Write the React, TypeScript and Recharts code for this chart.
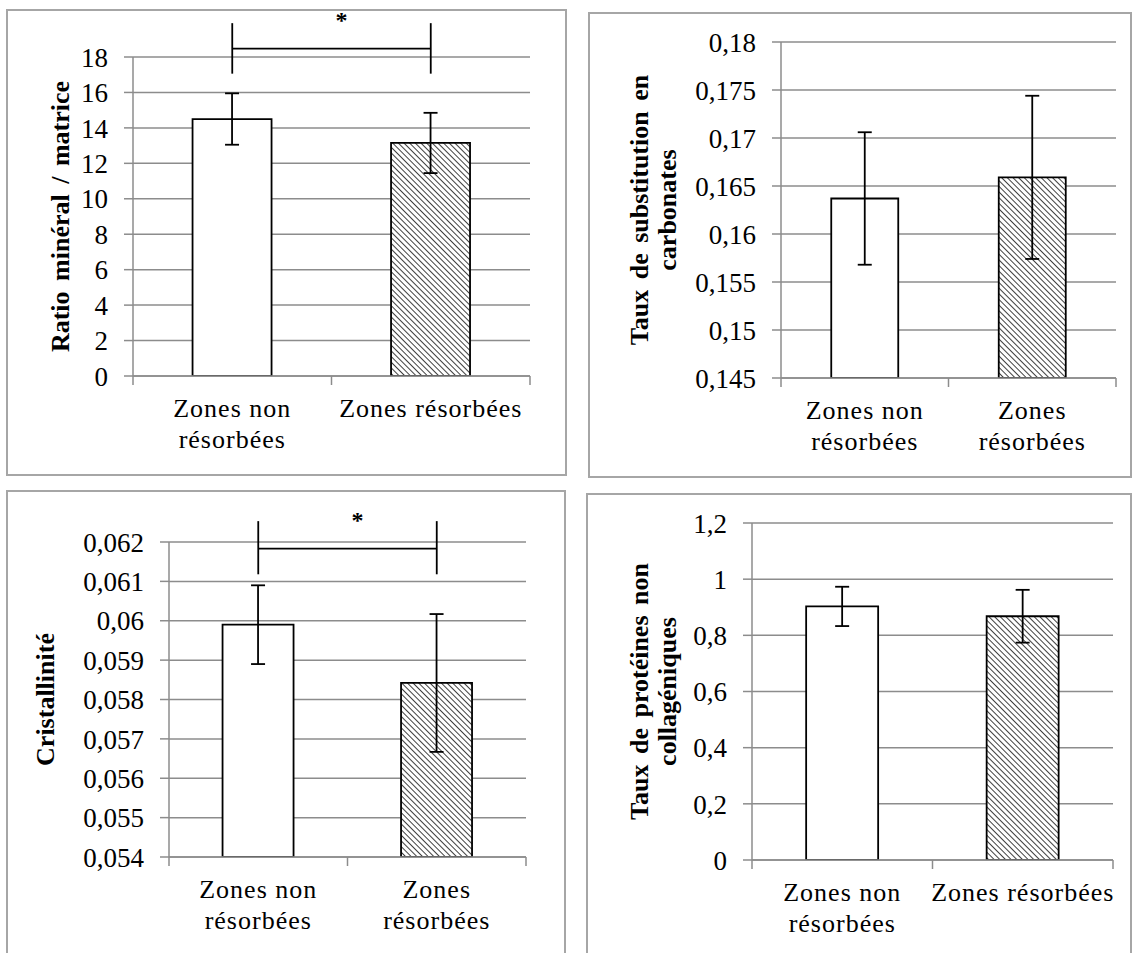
import React from 'react';
import { BarChart, Bar, XAxis, YAxis, CartesianGrid, ErrorBar, Cell, ReferenceLine } from 'recharts';

const categories = ['Zones non résorbées', 'Zones résorbées'];
const wideLines = [['Zones non', 'résorbées'], ['Zones résorbées']];
const narrowLines = [['Zones non', 'résorbées'], ['Zones', 'résorbées']];

// Ratio minéral / matrice
const ratioValues = [14.5, 13.15];
const ratioErrors = [1.45, 1.7];
const ratioTicks = [0, 2, 4, 6, 8, 10, 12, 14, 16, 18];
const ratioSig = { y: 18.47, low: 17.06, high: 19.91 };

// Taux de substitution en carbonates
const carbValues = [0.1637, 0.1659];
const carbErrors = [0.0069, 0.0085];
const carbTicks = [0.145, 0.15, 0.155, 0.16, 0.165, 0.17, 0.175, 0.18];

// Cristallinité
const crystValues = [0.0599, 0.05842];
const crystErrors = [0.001, 0.00175];
const crystTicks = [0.054, 0.055, 0.056, 0.057, 0.058, 0.059, 0.06, 0.061, 0.062];
const crystSig = { y: 0.06183, low: 0.06118, high: 0.06253 };

// Taux de protéines non collagéniques
const ncpValues = [0.903, 0.868];
const ncpErrors = [0.07, 0.094];
const ncpTicks = [0, 0.2, 0.4, 0.6, 0.8, 1, 1.2];

const FONT = 'Liberation Serif, Times New Roman, serif';
const GRID = '#8c8c8c';
const TICK_SIZE = 9;
const TICK_MARGIN = 14;

const fmt = (v: number) => String(v).replace('.', ',');

const CategoryTick = (props: any) => {
  const { x, y, payload, lines, band } = props;
  const idx = categories.indexOf(payload.value);
  const rows: string[] = lines[idx] || [payload.value];
  const axisY = y - TICK_SIZE - TICK_MARGIN;
  return (
    <g>
      <line x1={x - band / 2} x2={x - band / 2} y1={axisY} y2={axisY + TICK_SIZE} stroke={GRID} strokeWidth={1.5} />
      {idx === categories.length - 1 && (
        <line x1={x + band / 2} x2={x + band / 2} y1={axisY} y2={axisY + TICK_SIZE} stroke={GRID} strokeWidth={1.5} />
      )}
      <text x={x} y={y} textAnchor="middle" style={{ fontFamily: FONT, fontSize: 26, letterSpacing: 1 }} fill="#000">
        {rows.map((r, i) => (
          <tspan key={i} x={x} dy={i === 0 ? '0.71em' : 31}>{r}</tspan>
        ))}
      </text>
    </g>
  );
};

const ValueTick = (props: any) => {
  const { x, y, payload } = props;
  return (
    <text x={x} y={y} dy="0.36em" textAnchor="end" style={{ fontFamily: FONT, fontSize: 27 }} fill="#000">
      {fmt(payload.value)}
    </text>
  );
};

const AxisTitle = (props: any) => {
  const { viewBox, lines, cx, gap } = props;
  const cy = viewBox.y + viewBox.height / 2;
  return (
    <g>
      {lines.map((l: string, i: number) => {
        const x = cx + i * gap;
        return (
          <text key={i} x={x} y={cy} transform={`rotate(-90, ${x}, ${cy})`} textAnchor="middle"
            dominantBaseline="central" style={{ fontFamily: FONT, fontSize: 26, fontWeight: 'bold', wordSpacing: 4 }} fill="#000">
            {l}
          </text>
        );
      })}
    </g>
  );
};

type PanelProps = {
  id: string;
  left: number; top: number; width: number; height: number;
  marginTop: number; marginRight: number; yWidth: number; xHeight: number;
  values: number[]; errors: number[]; ticks: number[];
  title: string[]; titleX: number; titleGap: number;
  labels: string[][];
  sig?: { y: number; low: number; high: number };
};

const Panel = (p: PanelProps) => {
  const data = categories.map((name, i) => ({ name, value: p.values[i], err: p.errors[i] }));
  const plotWidth = p.width - p.marginRight - p.yWidth;
  const band = plotWidth / categories.length;
  return (
    <div style={{ position: 'absolute', left: p.left, top: p.top }}>
      <BarChart width={p.width} height={p.height} data={data}
        margin={{ top: p.marginTop, right: p.marginRight, bottom: 0, left: 0 }} barCategoryGap="30%">
        <defs>
          <pattern id={`hatch-${p.id}`} patternUnits="userSpaceOnUse" width={4} height={4} patternTransform="rotate(-45)">
            <rect width={4} height={4} fill="#fff" />
            <line x1={0} y1={0} x2={0} y2={4} stroke="#000" strokeWidth={1.5} />
          </pattern>
        </defs>
        <CartesianGrid vertical={false} stroke={GRID} strokeWidth={1.5} />
        <XAxis dataKey="name" interval={0} height={p.xHeight} tickLine={false} tickSize={TICK_SIZE}
          tickMargin={TICK_MARGIN} axisLine={{ stroke: GRID, strokeWidth: 1.5 }}
          tick={(t: any) => <CategoryTick {...t} lines={p.labels} band={band} />} />
        <YAxis width={p.yWidth} domain={[p.ticks[0], p.ticks[p.ticks.length - 1]]} ticks={p.ticks}
          allowDataOverflow interval={0} tickSize={TICK_SIZE} tickMargin={16}
          axisLine={{ stroke: GRID, strokeWidth: 1.5 }} tickLine={{ stroke: GRID, strokeWidth: 1.5 }}
          tick={(t: any) => <ValueTick {...t} />}
          label={{ content: (lp: any) => <AxisTitle viewBox={lp.viewBox} lines={p.title} cx={p.titleX} gap={p.titleGap} /> }} />
        <Bar dataKey="value" stroke="#000" strokeWidth={1.8} isAnimationActive={false}>
          {data.map((d, i) => (
            <Cell key={d.name} fill={i === 0 ? '#fff' : `url(#hatch-${p.id})`} />
          ))}
          <ErrorBar dataKey="err" width={7} stroke="#000" strokeWidth={1.8} isAnimationActive={false} />
        </Bar>
        {p.sig && (
          <ReferenceLine ifOverflow="visible" stroke="#000" strokeWidth={1.8}
            segment={[{ x: categories[0], y: p.sig.y }, { x: categories[1], y: p.sig.y }]}
            label={{ value: '*', position: 'top', offset: 21, dx: 10, fontSize: 24, fontWeight: 'bold', fill: '#000', fontFamily: FONT }} />
        )}
        {p.sig && categories.map((c) => (
          <ReferenceLine key={c} ifOverflow="visible" stroke="#000" strokeWidth={1.8}
            segment={[{ x: c, y: p.sig!.low }, { x: c, y: p.sig!.high }]} />
        ))}
      </BarChart>
    </div>
  );
};

const boxStyle = (left: number, top: number, right: number, bottom: number): React.CSSProperties => ({
  position: 'absolute', left, top, width: right - left, height: bottom - top,
  border: '2px solid #a6a6a6', boxSizing: 'border-box',
});

export default function App() {
  return (
    <div style={{ position: 'absolute', left: 0, top: 0, width: 1132, height: 953, background: '#fff', overflow: 'hidden' }}>
      <div style={boxStyle(6, 9, 567, 476)} />
      <div style={boxStyle(588, 12, 1132, 478)} />
      <div style={boxStyle(6, 490, 566, 970)} />
      <div style={boxStyle(586, 493, 1132, 970)} />
      <Panel id="a" left={0} top={0} width={566} height={475} marginTop={57} marginRight={36} yWidth={133} xHeight={99}
        values={ratioValues} errors={ratioErrors} ticks={ratioTicks}
        title={['Ratio minéral / matrice']} titleX={60} titleGap={0} labels={wideLines} sig={ratioSig} />
      <Panel id="b" left={580} top={0} width={552} height={477} marginTop={42} marginRight={16} yWidth={201} xHeight={99}
        values={carbValues} errors={carbErrors} ticks={carbTicks}
        title={['Taux de substitution en', 'carbonates']} titleX={59} titleGap={28} labels={narrowLines} />
      <Panel id="c" left={0} top={480} width={566} height={473} marginTop={62} marginRight={40} yWidth={169} xHeight={96}
        values={crystValues} errors={crystErrors} ticks={crystTicks}
        title={['Cristallinité']} titleX={45} titleGap={0} labels={narrowLines} sig={crystSig} />
      <Panel id="d" left={580} top={480} width={552} height={473} marginTop={43} marginRight={19} yWidth={172} xHeight={93}
        values={ncpValues} errors={ncpErrors} ticks={ncpTicks}
        title={['Taux de protéines non', 'collagéniques']} titleX={59} titleGap={28} labels={wideLines} />
    </div>
  );
}
